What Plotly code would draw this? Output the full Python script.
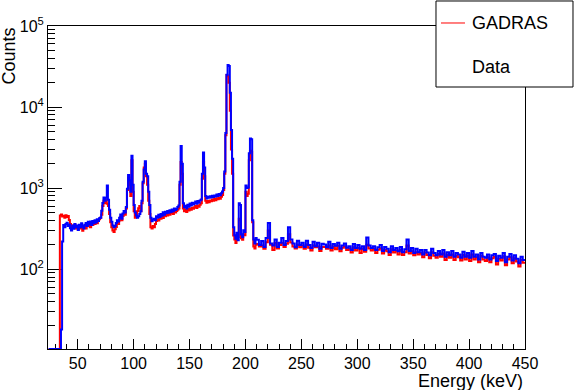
import plotly.graph_objects as go

# binning: 1 keV up to 210 keV, 2 keV above
bin_edges = list(range(24, 210)) + list(range(210, 451, 2))

# measured spectrum (blue)
data_counts = [
    0, 0, 0, 0, 0, 0, 0, 0, 0, 0,
    0, 18, 220, 350, 330, 360, 375, 340, 355, 320,
    300, 345, 315, 360, 330, 345, 305, 352, 330, 368,
    338, 318, 352, 372, 340, 384, 356, 388, 350, 394,
    368, 402, 376, 412, 392, 425, 432, 525, 655, 765,
    700, 760, 1080, 720, 540, 430, 385, 345, 330, 340,
    372, 402, 388, 432, 472, 418, 485, 522, 500, 585,
    980, 1450, 1250, 900, 2500, 1100, 620, 500, 460, 430,
    450, 480, 520, 700, 1200, 1700, 2150, 1500, 1400, 900,
    620, 430, 390, 410, 420, 400, 450, 430, 470, 440,
    480, 455, 505, 470, 512, 488, 522, 498, 535, 508,
    545, 518, 562, 538, 552, 585, 610, 1200, 3300, 2000,
    650, 580, 605, 560, 622, 588, 645, 608, 662, 628,
    652, 685, 640, 694, 662, 705, 725, 1500, 2750, 1800,
    800, 742, 785, 758, 795, 768, 805, 778, 812, 790,
    835, 798, 845, 818, 862, 905, 1000, 1600, 4800, 25000,
    33000, 32000, 15000, 5200, 2300, 330, 262, 238, 282, 228,
    650, 620, 268, 248, 302, 288, 1080, 1000, 1020, 2700,
    4100, 4000, 400, 232, 208, 242,
    # 2 keV bins
    230, 198, 222, 188, 242, 370, 208, 196, 232, 188,
    212, 242, 198, 222, 330, 232, 208, 186, 224, 198,
    212, 188, 224, 198, 182, 218, 192, 212, 178, 206,
    202, 186, 218, 182, 204, 194, 212, 178, 196, 208,
    184, 192, 172, 204, 182, 198, 178, 192, 172, 246,
    196, 182, 192, 172, 186, 198, 168, 188, 178, 162,
    192, 172, 182, 166, 188, 162, 176, 232, 168, 182,
    158, 178, 162, 172, 152, 172, 160, 148, 178, 158,
    148, 168, 152, 172, 142, 162, 148, 168, 142, 158,
    152, 138, 164, 142, 158, 138, 168, 142, 152, 132,
    158, 142, 138, 152, 132, 148, 154, 126, 146, 138,
    158, 122, 142, 154, 128, 148, 134, 118, 142, 130,
]

# GADRAS simulation (red)
gadras_counts = [
    0, 0, 0, 0, 0, 0, 0, 0, 0, 0,
    460, 472, 445, 455, 432, 462, 440, 452, 405, 362,
    332, 345, 328, 352, 318, 340, 308, 330, 318, 346,
    298, 332, 342, 318, 352, 338, 356, 328, 366, 350,
    372, 360, 382, 368, 402, 412, 430, 470, 600, 700,
    650, 720, 640, 600, 480, 380, 330, 300, 288, 310,
    332, 368, 360, 398, 442, 400, 452, 478, 470, 560,
    950, 1350, 1100, 800, 2200, 900, 520, 430, 460, 520,
    565, 600, 520, 650, 1150, 1800, 2000, 1400, 1100, 700,
    480, 330, 318, 342, 330, 362, 392, 410, 398, 432,
    420, 442, 428, 462, 450, 472, 458, 482, 470, 492,
    502, 478, 512, 500, 522, 542, 560, 1100, 2100, 1500,
    560, 520, 542, 508, 552, 530, 562, 540, 572, 558,
    582, 602, 568, 612, 590, 622, 650, 1300, 2100, 1400,
    700, 660, 692, 668, 702, 688, 722, 700, 732, 710,
    752, 728, 762, 740, 782, 822, 950, 1500, 4500, 24800,
    24000, 20000, 9000, 3000, 1500, 260, 232, 210, 242, 250,
    420, 400, 240, 230, 270, 262, 900, 800, 850, 2200,
    2900, 2800, 380, 190, 180, 200,
    # 2 keV bins
    205, 190, 196, 178, 215, 300, 200, 172, 210, 180,
    198, 210, 188, 206, 270, 214, 190, 180, 200, 186,
    196, 178, 202, 184, 170, 196, 186, 190, 168, 188,
    188, 178, 196, 170, 190, 176, 194, 166, 184, 190,
    172, 180, 160, 186, 170, 184, 158, 178, 164, 200,
    180, 170, 178, 158, 174, 180, 156, 172, 166, 150,
    176, 160, 170, 152, 172, 150, 162, 196, 156, 166,
    148, 162, 152, 158, 140, 160, 150, 136, 162, 146,
    138, 154, 142, 156, 130, 150, 138, 152, 130, 146,
    140, 128, 150, 132, 146, 126, 152, 132, 140, 122,
    146, 132, 126, 140, 122, 136, 142, 114, 134, 128,
    144, 112, 132, 140, 118, 136, 124, 108, 130, 120,
]

assert len(data_counts) == len(bin_edges) - 1
assert len(gadras_counts) == len(bin_edges) - 1

LOG_MIN, LOG_MAX = 1.015, 5
FLOOR = 10 ** LOG_MIN
FONT = "Liberation Sans, Arial, sans-serif"


def step_trace(counts, color):
    # empty bins sit on the bottom of the frame like in ROOT
    y = [max(c, FLOOR) for c in counts]
    return go.Scatter(
        x=bin_edges, y=y + [y[-1]],
        mode="lines", line=dict(color=color, width=2, shape="hv"),
        showlegend=False, hoverinfo="skip",
    )


fig = go.Figure()
fig.add_trace(step_trace(gadras_counts, "#ff0000"))
fig.add_trace(step_trace(data_counts, "#0000ff"))

minor_y = [m * 10 ** d for d in range(1, 5) for m in range(2, 10)]

fig.update_layout(
    width=574, height=390,
    margin=dict(l=48, r=49, t=26, b=41),
    paper_bgcolor="white", plot_bgcolor="white",
    font=dict(family=FONT, size=16, color="black"),
    xaxis=dict(
        range=[23.4, 450], showgrid=False, zeroline=False,
        showline=True, mirror=True, linecolor="black", linewidth=1,
        ticks="inside", ticklen=10, tickcolor="black", dtick=50, tick0=0,
        minor=dict(ticks="inside", ticklen=5, dtick=10, tickcolor="black"),
        layer="below traces",
    ),
    yaxis=dict(
        type="log", range=[LOG_MIN, LOG_MAX], showgrid=False, zeroline=False,
        showline=True, mirror=True, linecolor="black", linewidth=1,
        ticks="inside", ticklen=14, tickcolor="black",
        tickmode="array", tickvals=[100, 1000, 10000, 100000],
        ticktext=["10<sup>2</sup>", "10<sup>3</sup>", "10<sup>4</sup>", "10<sup>5</sup>"],
        minor=dict(tickmode="array", tickvals=minor_y, ticks="inside",
                   ticklen=7, tickcolor="black"),
        layer="below traces",
    ),
)

# axis titles, ROOT style (right / top aligned)
fig.add_annotation(text="Energy (keV)", xref="paper", yref="paper",
                   x=1.0, y=-0.099, xanchor="right", yanchor="middle",
                   showarrow=False, font=dict(size=18))
fig.add_annotation(text="Counts", xref="paper", yref="paper",
                   x=-0.0818, y=1.003, xanchor="center", yanchor="top",
                   textangle=-90, showarrow=False, font=dict(size=18))

# legend box
fig.add_shape(type="rect", xref="paper", yref="paper",
              x0=0.8134, x1=1.1006, y0=0.8111, y1=1.0774,
              line=dict(color="black", width=1), fillcolor="white")
fig.add_shape(type="line", xref="paper", yref="paper",
              x0=0.8239, x1=0.8742, y0=1.0093, y1=1.0093,
              line=dict(color="#ff0000", width=1))
fig.add_annotation(text="GADRAS", xref="paper", yref="paper",
                   x=0.8847, y=1.0093, xanchor="left", yanchor="middle",
                   showarrow=False, font=dict(size=18))
fig.add_annotation(text="Data", xref="paper", yref="paper",
                   x=0.8847, y=0.8731, xanchor="left", yanchor="middle",
                   showarrow=False, font=dict(size=18))

# drop the default page margin so the figure fills the window
fig.write_html("out.html", config={"displayModeBar": False},
               post_script="document.body.style.margin = '0px';")
